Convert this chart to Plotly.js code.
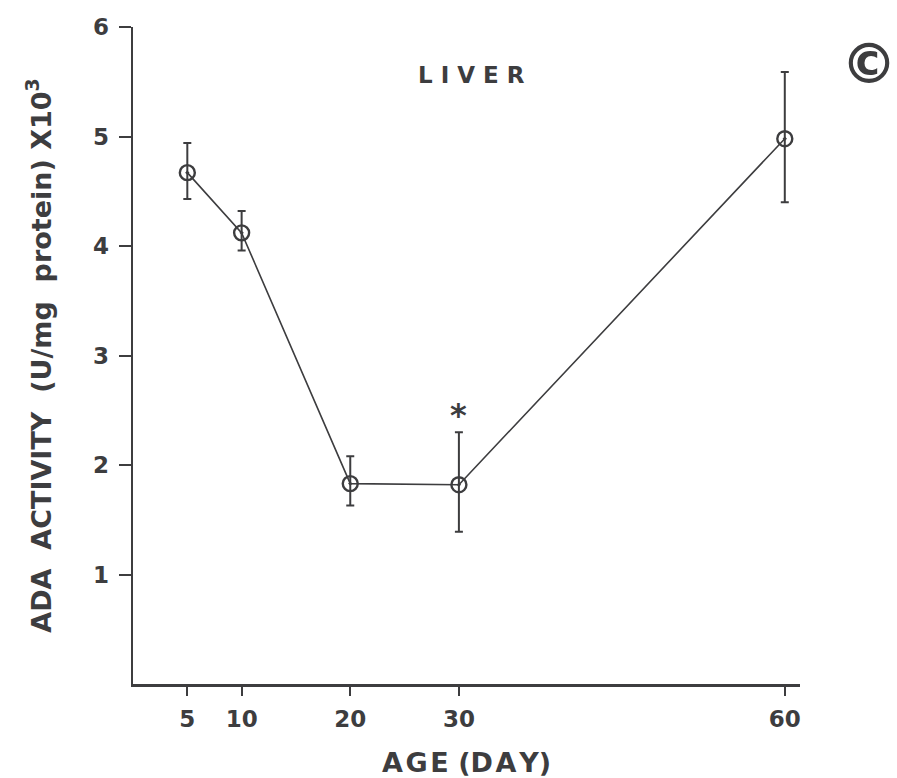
<!DOCTYPE html>
<html>
<head>
<meta charset="utf-8">
<script src="https://cdn.plot.ly/plotly-3.0.1.min.js"></script>
<style>html,body{margin:0;padding:0;background:#fff;}#chart{width:897px;height:778px;}</style>
</head>
<body>
<div id="chart"></div>
<script>
// Data
const ageDays = [5, 10, 20, 30, 60];
const adaActivity = [4.67, 4.12, 1.83, 1.82, 4.98];
const errUpper = [0.27, 0.20, 0.25, 0.48, 0.61];
const errLower = [0.24, 0.16, 0.20, 0.43, 0.58];
const xTickVals = [5, 10, 20, 30, 60];
const xTickText = ['5', '10', '20', '30', '60'];
const yTickVals = [1, 2, 3, 4, 5, 6];
const yTickText = ['1', '2', '3', '4', '5', '6'];
const panelTitle = 'L I V E R';
const panelLetter = '©';
const xTitle = 'A\u200AG\u200AE (D\u200AA\u200AY)';
const yTitle = 'ADA  ACTIVITY  (U/mg  protein) X10<sup>3</sup>';
const starAge = 30;
const starValue = 2.46;

const ink = '#3d3d3f';
const fontFam = '"DejaVu Sans", "Liberation Sans", sans-serif';

const trace = {
  x: ageDays,
  y: adaActivity,
  type: 'scatter',
  mode: 'lines+markers',
  line: {color: ink, width: 1.6},
  marker: {symbol: 'circle-open-dot', size: 15, color: ink, line: {width: 2.4, color: ink}},
  error_y: {type: 'data', symmetric: false, array: errUpper, arrayminus: errLower,
            color: ink, thickness: 2, width: 4},
  hoverinfo: 'skip',
  showlegend: false
};

const layout = {
  width: 897, height: 778,
  margin: {l: 133, r: 97, t: 27, b: 94},
  paper_bgcolor: '#ffffff', plot_bgcolor: '#ffffff',
  font: {family: fontFam, color: ink},
  xaxis: {
    range: [0, 61.4], tickvals: xTickVals, ticktext: xTickText,
    ticks: 'outside', ticklen: 9, tickwidth: 2, tickcolor: ink,
    showline: true, linewidth: 2.5, linecolor: ink, showgrid: false, zeroline: false,
    ticklabelstandoff: 4,
    tickfont: {size: 23, weight: 'bold', color: ink, family: fontFam},
    title: {text: xTitle, font: {size: 27, weight: 'bold', color: ink, family: fontFam}, standoff: 22}
  },
  yaxis: {
    range: [0, 6], tickvals: yTickVals, ticktext: yTickText,
    ticks: 'outside', ticklen: 12, tickwidth: 2, tickcolor: ink,
    showline: true, linewidth: 2.5, linecolor: ink, showgrid: false, zeroline: false,
    ticklabelstandoff: 5,
    tickfont: {size: 23, weight: 'bold', color: ink, family: fontFam},
    title: {text: yTitle, font: {size: 27, weight: 'bold', color: ink, family: fontFam}, standoff: 34}
  },
  annotations: [
    {x: 0.508, y: 5.56, xref: 'paper', yref: 'y', text: panelTitle, showarrow: false,
     yanchor: 'middle', font: {size: 23, weight: 'bold', color: ink, family: fontFam}},
    {x: starAge, y: starValue, xref: 'x', yref: 'y', text: '*', showarrow: false,
     font: {size: 32, weight: 'bold', color: ink, family: fontFam}},
    {x: 1.148, y: 5.67, xref: 'paper', yref: 'y', text: panelLetter, showarrow: false,
     yanchor: 'middle', font: {size: 56, weight: 'bold', color: ink, family: fontFam}}
  ]
};

Plotly.newPlot('chart', [trace], layout, {staticPlot: true});
</script>
</body>
</html>
